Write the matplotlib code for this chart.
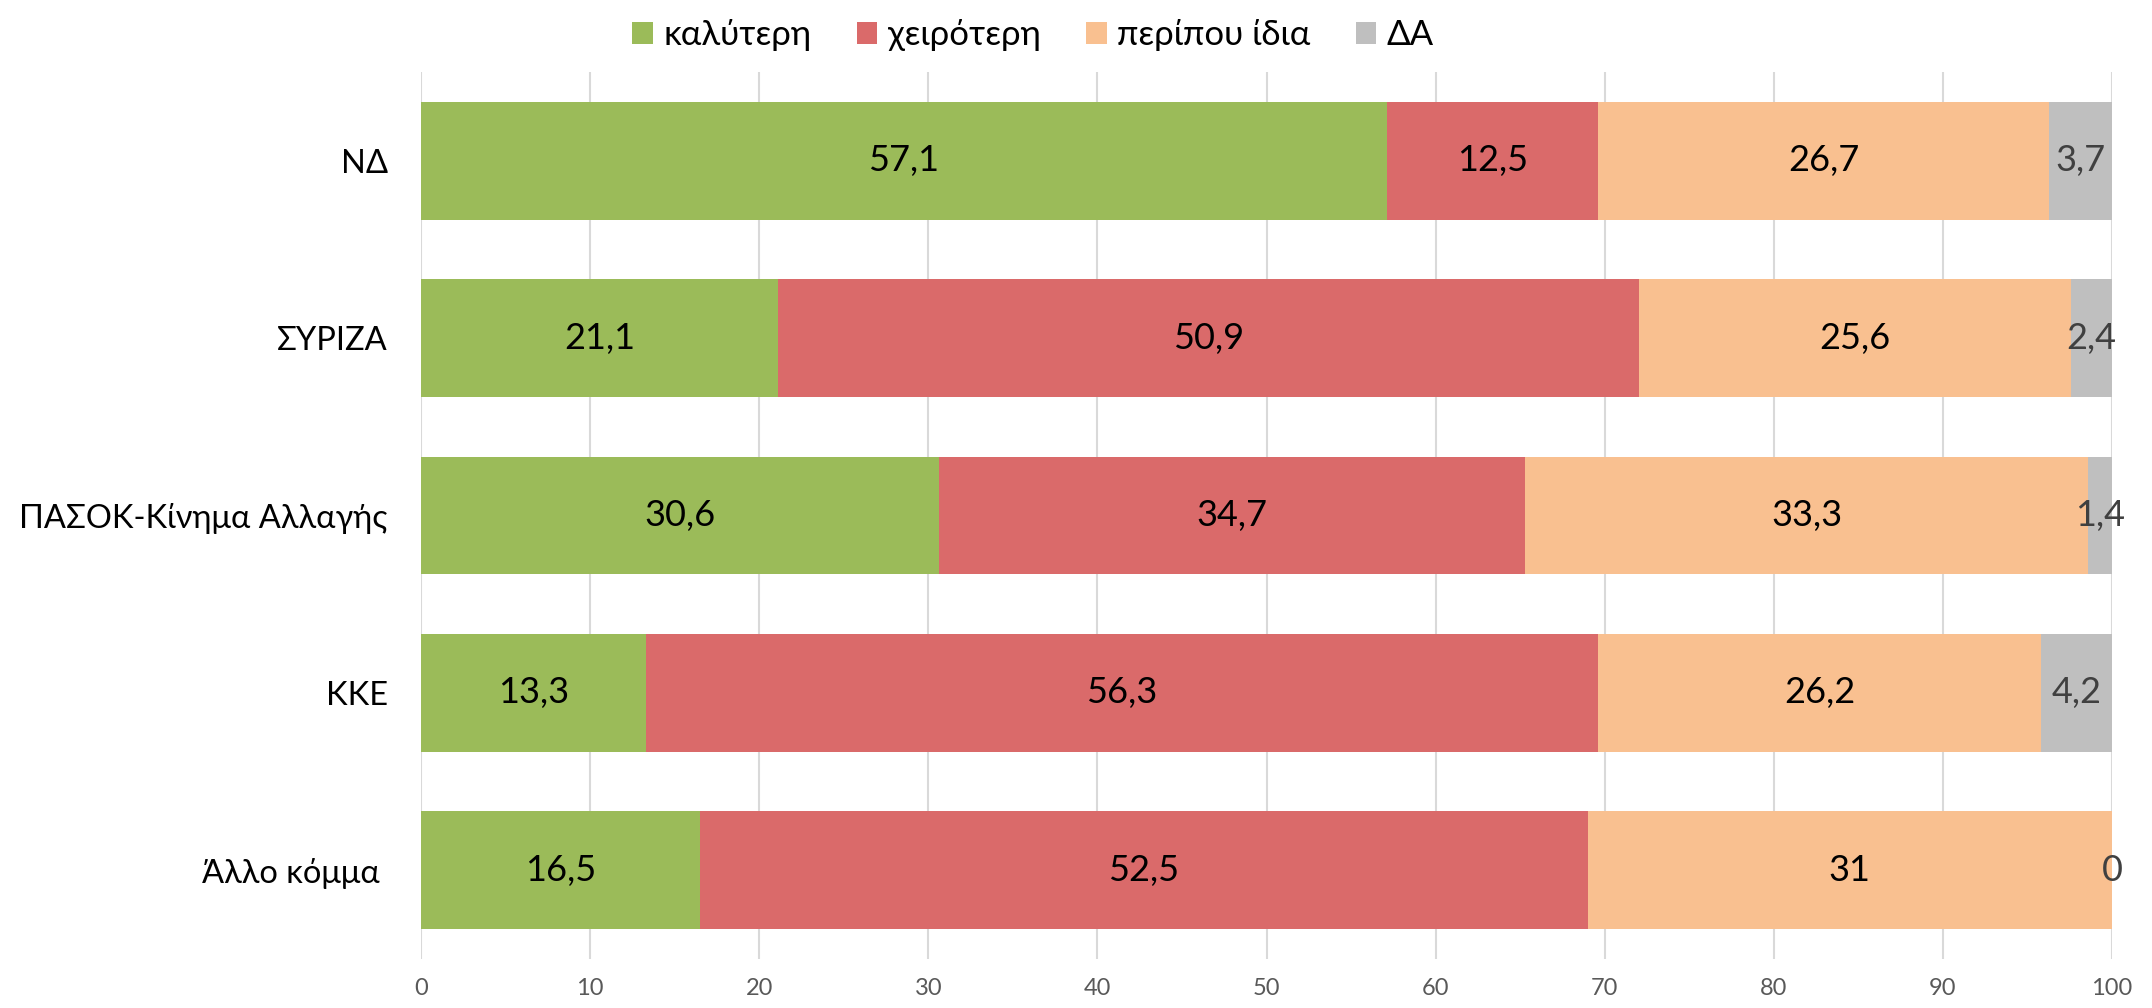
import matplotlib
matplotlib.use("Agg")
import matplotlib.pyplot as plt
from matplotlib import font_manager
from matplotlib.ft2font import FT2Font
import numpy as np

categories = ["ΝΔ", "ΣΥΡΙΖΑ", "ΠΑΣΟΚ-Κίνημα Αλλαγής", "ΚΚΕ", "Άλλο κόμμα "]
series_names = ["καλύτερη", "χειρότερη", "περίπου ίδια", "ΔΑ"]
better = [57.1, 21.1, 30.6, 13.3, 16.5]
worse = [12.5, 50.9, 34.7, 56.3, 52.5]
same = [26.7, 25.6, 33.3, 26.2, 31]
dk = [3.7, 2.4, 1.4, 4.2, 0]
xticks = [0, 10, 20, 30, 40, 50, 60, 70, 80, 90, 100]

colors = ["#9BBB59", "#DA6A6A", "#F9C090", "#BFBFBF"]
label_colors = ["black", "black", "black", "#404040"]


def has_greek(fam):
    try:
        path = font_manager.findfont(font_manager.FontProperties(family=fam), fallback_to_default=False)
        cmap = FT2Font(path).get_charmap()
        return ord("λ") in cmap and ord("Σ") in cmap
    except Exception:
        return False


main_font = "Lato" if has_greek("Lato") else "Open Sans"
plt.rcParams['font.family'] = [main_font, 'Open Sans', 'DejaVu Sans']

fig = plt.figure(figsize=(21.52, 10.08), dpi=100)
ax = fig.add_axes([0.1957, 0.0486, 0.7857, 0.88])

y = np.arange(len(categories))
left = np.zeros(len(categories))
handles = []
for vals, name, col, lc in zip([better, worse, same, dk], series_names, colors, label_colors):
    vals = np.array(vals, dtype=float)
    h = ax.barh(y, vals, left=left, height=0.665, color=col, label=name, zorder=2)
    handles.append(h)
    for yi, (l, v) in enumerate(zip(left, vals)):
        txt = f"{v:g}".replace(".", ",")
        ax.text(l + v / 2, yi, txt, ha="center", va="center", fontsize=26, color=lc, zorder=3)
    left = left + vals

ax.set_xlim(0, 100)
ax.set_ylim(4.5, -0.5)
ax.set_yticks(y)
ax.set_yticklabels(categories, fontsize=23.5)
ax.set_xticks(xticks)
ax.set_xticklabels([str(t) for t in xticks], fontsize=17, color="#595959")
ax.tick_params(axis="both", length=0)
ax.tick_params(axis="y", pad=24)
ax.tick_params(axis="x", pad=14)
ax.grid(axis="x", color="#D9D9D9", linewidth=1.5, zorder=0)
for s in ax.spines.values():
    s.set_visible(False)

fig.legend(handles=handles, labels=series_names, loc="upper center", bbox_to_anchor=(0.48, 1.012),
           ncol=4, frameon=False, fontsize=25, handlelength=0.6, handleheight=0.6,
           handletextpad=0.3, columnspacing=1.3)

fig.savefig("out.png", dpi=100)
